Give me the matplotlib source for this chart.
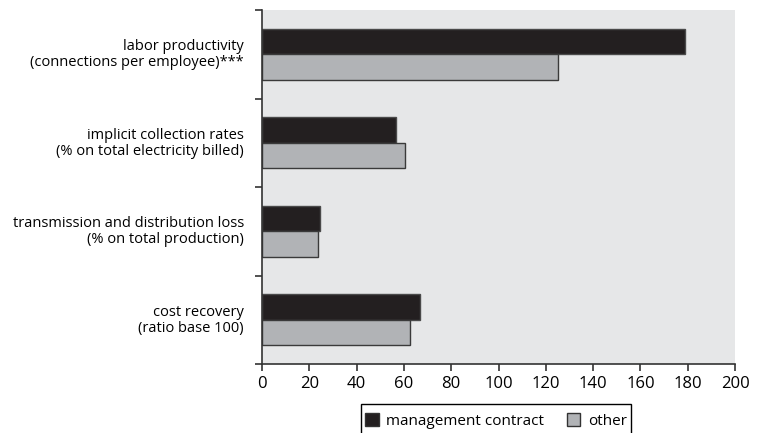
import matplotlib
matplotlib.use("Agg")
import matplotlib.pyplot as plt
from matplotlib.patches import Patch, Rectangle
import numpy as np

plt.rcParams['font.family'] = ['Open Sans', 'DejaVu Sans']

categories = [
    "labor productivity\n(connections per employee)***",
    "implicit collection rates\n(% on total electricity billed)",
    "transmission and distribution loss\n(% on total production)",
    "cost recovery\n(ratio base 100)",
]
management_contract = [179, 56.5, 24.5, 67]
other = [125, 60.5, 23.5, 62.5]
series_names = ["management contract", "other"]
xticks = [0, 20, 40, 60, 80, 100, 120, 140, 160, 180, 200]

fig = plt.figure(figsize=(7.59, 4.33), dpi=100)
ax = fig.add_axes([262/759, 1-364/433, (735-262)/759, (364-10)/433])
ax.set_facecolor('#e6e7e8')

n = len(categories)
ypos = np.arange(n)[::-1]
h = 0.29
ax.barh(ypos + h/2, management_contract, height=h, color='#231f20',
        edgecolor='#4a4a4a', linewidth=1.0)
ax.barh(ypos - h/2, other, height=h, color='#b1b3b6',
        edgecolor='#3a3a3a', linewidth=1.0)

ax.set_xlim(0, 200)
ax.set_ylim(-0.5, n - 0.5)
ax.set_xticks(xticks)
ax.set_xticklabels([str(t) for t in xticks], fontsize=12)
ax.set_yticks(ypos + 0.02)
ax.set_yticklabels(categories, fontsize=10.5, linespacing=1.05)
ax.tick_params(axis='y', which='major', length=0, pad=13)
ax.set_yticks(np.arange(-0.5, n, 1.0), minor=True)
ax.tick_params(axis='y', which='minor', length=5, width=1.2, color='#333333', direction='out')
ax.tick_params(axis='x', which='major', length=5, width=1.2, color='#333333', direction='out', pad=4)

for s in ['top', 'right']:
    ax.spines[s].set_visible(False)
for s in ['left', 'bottom']:
    ax.spines[s].set_color('#333333')
    ax.spines[s].set_linewidth(1.2)

handles = [Patch(facecolor='#231f20', edgecolor='#333333', linewidth=1.0),
           Patch(facecolor='#b1b3b6', edgecolor='#333333', linewidth=1.0)]
leg = fig.legend(handles, series_names, loc='center left',
                 bbox_to_anchor=(365/759, 1-421/433), ncol=2, fontsize=11,
                 frameon=False, handlelength=0.9, handleheight=0.9,
                 handletextpad=0.5, columnspacing=1.45, borderpad=0,
                 borderaxespad=0)
frame = Rectangle((361/759, 1-440/433), (631-361)/759, (440-404)/433,
                  transform=fig.transFigure, facecolor='none',
                  edgecolor='black', linewidth=1.0, clip_on=False)
fig.add_artist(frame)

fig.savefig('out.png', dpi=100)
